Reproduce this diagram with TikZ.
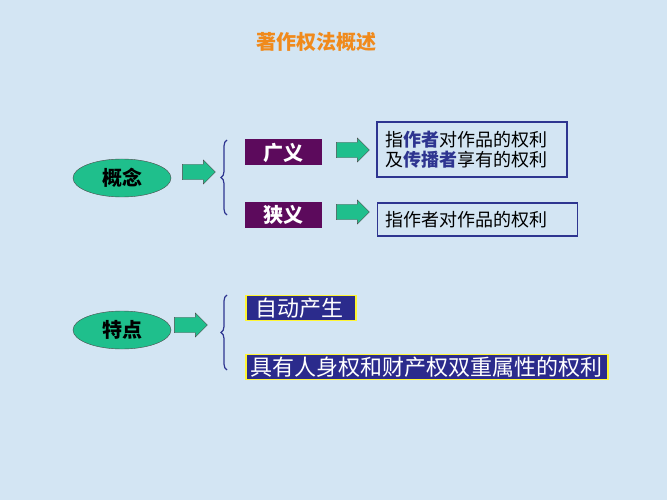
\documentclass[tikz,border=0pt]{standalone}
\usepackage{fontspec}
\setmainfont{Noto Sans CJK SC}
\usetikzlibrary{shapes.geometric,shapes.arrows,decorations.pathreplacing}
\definecolor{bgblue}{HTML}{D3E5F3}
\definecolor{tealgreen}{HTML}{1FBF8C}
\definecolor{plum}{HTML}{5C0A5C}
\definecolor{navy}{HTML}{2B2B8C}
\definecolor{framebl}{HTML}{2E3590}
\definecolor{titleor}{HTML}{F08A1C}
\tikzset{
  concept/.style = {ellipse, draw=black!70, fill=tealgreen, minimum width=98pt, minimum height=38pt, inner sep=0pt, font=\bfseries\fontsize{20}{20}\selectfont},
  blockarrow/.style = {single arrow, draw=black!70, fill=tealgreen, minimum width=24pt, single arrow head extend=4pt, minimum height=33pt, inner xsep=0pt, inner ysep=7pt},
  purplebox/.style = {fill=plum, text=white, minimum width=77pt, minimum height=26pt, inner sep=0pt, font=\bfseries\fontsize{20}{20}\selectfont},
  navybox/.style = {fill=navy, draw=yellow!80!white, line width=1.5pt, text=white, inner sep=1pt, minimum height=25pt, font=\fontsize{22}{22}\selectfont},
  textbox/.style = {draw=framebl, line width=1.5pt, align=left, inner xsep=8pt, inner ysep=4pt, font=\fontsize{18}{20}\selectfont},
  groupbrace/.style = {decorate, decoration={brace, amplitude=6pt}, draw=framebl, line width=1.2pt}
}
\newcommand{\hlword}[1]{{\bfseries\color{framebl}#1}}
\begin{document}
\begin{tikzpicture}[x=1pt,y=-1pt]
  \fill[bgblue] (0,0) rectangle (667,500);
  \useasboundingbox (0,0) rectangle (667,500);

  \node[text=titleor, font=\bfseries\fontsize{20}{20}\selectfont] (title) at (316,42) {著作权法概述};

  % concept
  \node[concept] (gainian) at (122,178) {概念};
  \node[blockarrow] (a1) at (195,172) {};
  \draw[groupbrace] (227,215) -- (227,140);
  \node[purplebox] (guang) at (283.5,152.5) {广义};
  \node[purplebox] (xia) at (283.5,215) {狭义};
  \node[blockarrow] (a2) at (349,150) {};
  \node[blockarrow] (a3) at (349,212) {};
  \node[textbox, text width=174pt, minimum height=55pt] (guangtxt) at (472,149.5)
    {指\hlword{作者}对作品的权利\\及\hlword{传播者}享有的权利};
  \node[textbox, text width=184pt, minimum height=33pt] (xiatxt) at (477.5,219.5) {指作者对作品的权利};

  % features
  \node[concept] (tedian) at (122,330) {特点};
  \node[blockarrow] (a4) at (187,325) {};
  \draw[groupbrace] (227,370) -- (227,295);
  \node[navybox, anchor=west, minimum width=110pt, align=left] (zidong) at (245,308) {自动产生\hspace*{2pt}};
  \node[navybox, anchor=west, minimum width=362pt] (juyou) at (245,367) {具有人身权和财产权双重属性的权利};
\end{tikzpicture}
\end{document}
